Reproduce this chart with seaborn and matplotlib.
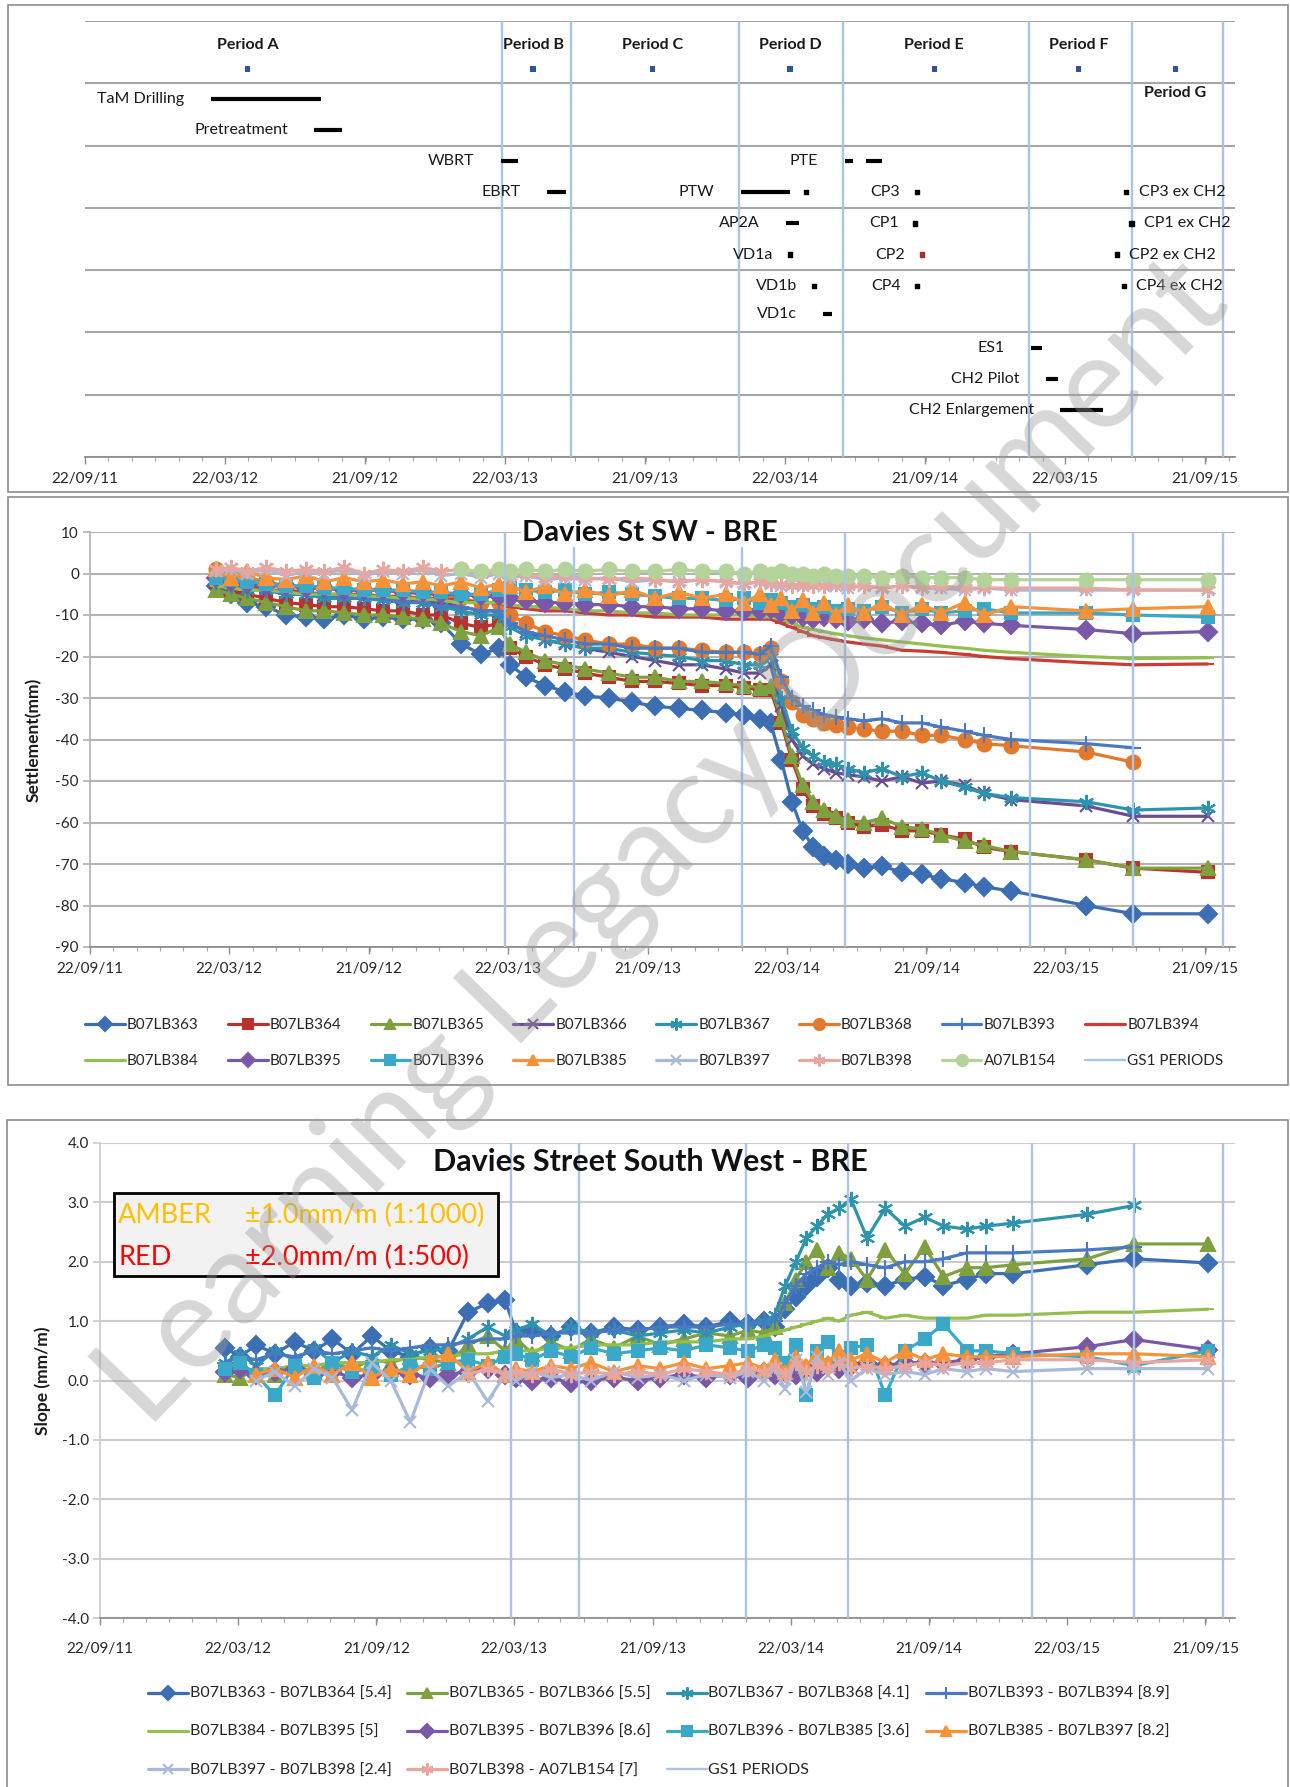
import numpy as np
import pandas as pd
import matplotlib
matplotlib.use("Agg")
import matplotlib.pyplot as plt
import matplotlib.dates as mdates
from matplotlib.patches import Rectangle
import seaborn as sns

nan = np.nan

# ---------------------------------------------------------------- data
# survey dates used by the settlement and slope panels
DATES = ["2012-03-05", "2012-03-25", "2012-04-15", "2012-05-10", "2012-06-05", "2012-07-01",
         "2012-07-25", "2012-08-20", "2012-09-15", "2012-10-10", "2012-11-05", "2012-12-01",
         "2012-12-25", "2013-01-20", "2013-02-15", "2013-03-10", "2013-03-25", "2013-04-15",
         "2013-05-10", "2013-06-05", "2013-07-01", "2013-08-01", "2013-09-01", "2013-10-01",
         "2013-11-01", "2013-12-01", "2014-01-01", "2014-01-25", "2014-02-15", "2014-03-01",
         "2014-03-15", "2014-03-29", "2014-04-12", "2014-04-26", "2014-05-10", "2014-05-25",
         "2014-06-10", "2014-07-01", "2014-07-25", "2014-08-20", "2014-09-15", "2014-10-10",
         "2014-11-10", "2014-12-05", "2015-01-10", "2015-04-18", "2015-06-19", "2015-09-24"]

# settlement (mm)
S363 = [-3, -5, -7, -8, -10, -10.5, -11, -10, -11, -10.5, -11, -11, -12, -17, -19.5, -18, -22, -25, -27, -28.5,
        -29.5, -30, -31, -32, -32.5, -33, -33.5, -34, -35, -36, -45, -55, -62, -66, -68, -69, -70, -71, -70.5, -72,
        -72.5, -73.5, -74.5, -75.5, -76.5, -80, -82, -82]
S364 = [-2, -4, -5, -6, -7, -7.5, -8, -8, -8.5, -9, -9, -10, -10, -12, -13, -12, -18, -20, -22, -23,
        -24, -25, -26, -26, -26.5, -27, -27, -27.5, -28, -28, -36, -45, -52, -56, -58, -59, -60, -61, -60.5, -62,
        -62, -63, -64, -66, -67, -69, -71, -72]
S365 = [-4, -5, -6, -7, -8, -9, -9, -9.5, -10, -10, -10.5, -11, -12, -14, -15, -13, -17, -19, -21, -22,
        -23, -24, -25, -25, -26, -26, -26.5, -27, -27.5, -27, -35, -44, -51, -55, -57, -58.5, -59.5, -60, -59, -61,
        -61.5, -63, -64.5, -65.5, -67, -69, -71, -71]
S366 = [-1, -2, -3, -4, -4.5, -5, -5, -5.5, -6, -6, -6.5, -7, -7, -8, -9, -9, -12, -14, -16, -17,
        -18, -19, -20, -21, -22, -22, -23, -24, -24, -22, -32, -40, -44, -46, -47, -48, -48.5, -49, -50, -49,
        -50.5, -50, -51, -53, -54.5, -56, -58.5, -58.5]
S367 = [-2, -3, -4, -4, -5, -5, -6, -6, -6, -6.5, -7, -7, -8, -9, -10, -10, -13, -15, -16, -17,
        -18, -18, -19, -19.5, -20, -21, -21, -22, -22, -20, -30, -38, -42, -44, -45.5, -46, -47, -48, -47, -49,
        -48, -50, -51.5, -53, -54, -55, -57, -56.5]
S368 = [1, 0, -1, -2, -3, -3, -3.5, -4, -4, -4, -4.5, -5, -5, -6, -7, -7, -10, -12, -14, -15,
        -16, -17, -17, -18, -18, -18.5, -19, -19, -19.5, -18, -26, -31, -34, -35, -36, -36.5, -37, -37.5, -38, -38,
        -39, -39, -40, -41, -41.5, -43, -45.5, nan]
S393 = [-1, -2, -3, -4, -5, -5, -5, -6, -6, -6, -7, -7, -8, -8, -9, -9, -12, -14, -15, -16,
        -17, -17, -18, -18, -18, -19, -19, -19, -19.5, -17.5, -25, -30, -32, -33, -34, -34.5, -35, -35.5, -35, -36,
        -36, -37, -38, -39, -40, -41, -42, nan]
S394 = [-2, -3, -3, -4, -4, -4.5, -5, -5, -5, -5.5, -5.5, -6, -6, -6.5, -7, -7, -8, -8.5, -9, -9,
        -9.5, -10, -10, -10.5, -10.5, -10.5, -11, -11, -11, -11, -12, -13, -14, -15, -15.5, -16, -16.5, -17, -17.5, -18.5,
        -18.7, -19, -19.5, -20, -20.5, -21.5, -22, -21.8]
S384 = [-3, -3.5, -4, -4, -4.5, -5, -5, -5, -5.5, -5.5, -6, -6, -6.5, -7, -7, -7, -7.5, -8, -8, -8.5,
        -9, -9, -9.5, -9.5, -10, -10, -10, -10, -10.5, -10.5, -11, -12, -13, -13.5, -14, -14.5, -15, -15.5, -16, -16.5,
        -17, -17.5, -18, -18.5, -19, -20, -20.5, -20.3]
S395 = [-1, -2, -2.5, -3, -3, -3.5, -3.5, -4, -4, -4, -4.5, -4.5, -5, -5, -5.5, -5.5, -6, -6.5, -7, -7,
        -7.5, -7.5, -8, -8, -8.5, -8.5, -9, -9, -9, -8.5, -9.5, -10, -10.5, -11, -10.5, -11, -11.5, -11, -12, -11.5,
        -12, -12.5, -11.5, -12, -12.5, -13.5, -14.5, -14]
S396 = [-1, -1.5, -2, -2.5, -3, -3, -3.5, -3.5, -4, -4, -4, -4.5, -4.5, -5, -5, -4, -3.5, -4, -4.5, -4,
        -5, -4.5, -5, -5.5, -6, -6, -6.5, -6, -7, -6.5, -7, -8, -7.5, -8.5, -8, -9, -8.5, -9, -8, -9.5,
        -8.5, -9.5, -9, -8.5, -9.5, -9.5, -10, -10.5]
S385 = [1, -1, 0.5, -1, -1.5, -0.5, -2, -1, -2, -1.5, -2.5, -2, -3, -2, -3.5, -2.5, -3, -4.5, -3, -5,
        -4, -5.5, -4, -6, -4.5, -6, -5, -7, -5, -7.5, -6, -9, -6.5, -9.5, -7, -10, -7.5, -9.5, -7, -10,
        -7.5, -9.5, -7, -10, -8, -9, -8.5, -8]
S397 = [0.5, 1, 0, 1, -0.5, 0.5, 0, 1, -0.5, 0.5, 0, 1, -0.5, 0, -1, 0, -1, -0.5, -1.5, -1,
        -1.5, -1, -2, -1.5, -2, -1.5, -2, -2.5, -2, -2.5, -3, -2.5, -3, -2.5, -3, -3, -3.5, -3, -3.5, -3,
        -3.5, -3.5, -4, -3.5, -4, -4, -4, -4]
S398 = [1, 1.5, 0.5, 1.5, 0.5, 1, 0.5, 1.5, 0, 1, 0.5, 1.5, 0.5, 1, 0, 0.5, -0.5, 0, -1, -0.5,
        -1, -1.5, -1, -1.5, -2, -1.5, -2, -2.5, -2, -2.5, -2.5, -3, -2.5, -3, -3, -2.5, -3, -3, -3.5, -3,
        -3.5, -3, -3.5, -3.5, -3.5, -3.5, -4, -4]
S154 = [nan, nan, nan, nan, nan, nan, nan, nan, nan, nan, nan, nan, nan, 1, 0.5, 1, 0.5, 1, 0.5, 1,
        0.5, 1, 0.5, 0.5, 1, 0.5, 0.5, 0, 0.5, 0, 0.5, 0, 0, -0.5, 0, -0.5, -0.5, -0.5, -1, -0.5,
        -1, -1, -1, -1.5, -1.5, -1.5, -1.5, -1.5]

# slope (mm/m)
SL_363_364 = [0.55, 0.4, 0.6, 0.45, 0.65, 0.5, 0.7, 0.45, 0.75, 0.5, 0.4, 0.55, 0.5, 1.15, 1.3, 1.35, 0.8, 0.85, 0.75, 0.9,
              0.8, 0.9, 0.85, 0.9, 0.95, 0.9, 1.0, 0.95, 1.0, 0.9, 1.2, 1.4, 1.6, 1.75, 1.9, 1.7, 1.6, 1.65, 1.6, 1.7,
              1.75, 1.6, 1.7, 1.8, 1.8, 1.95, 2.05, 1.98]
SL_365_366 = [0.1, 0.05, 0.2, 0.1, 0.25, 0.15, 0.3, 0.2, 0.35, 0.3, 0.4, 0.35, 0.3, 0.6, 0.75, 0.5, 0.7, 0.45, 0.65, 0.5,
              0.7, 0.55, 0.75, 0.6, 0.7, 0.8, 0.75, 0.85, 0.8, 0.9, 1.3, 1.7, 2.0, 2.2, 1.9, 2.15, 2.05, 1.7, 2.2, 1.8,
              2.25, 1.75, 1.9, 1.9, 1.95, 2.05, 2.3, 2.3]
SL_367_368 = [0.3, 0.45, 0.25, 0.5, 0.35, 0.55, 0.3, 0.5, 0.4, 0.6, 0.45, 0.5, 0.55, 0.7, 0.9, 0.75, 0.85, 0.95, 0.75, 0.9,
              0.8, 0.85, 0.75, 0.8, 0.85, 0.8, 0.9, 0.95, 1.0, 1.1, 1.6, 2.0, 2.4, 2.6, 2.8, 2.9, 3.05, 2.4, 2.9, 2.6,
              2.75, 2.6, 2.55, 2.6, 2.65, 2.8, 2.95, nan]
SL_393_394 = [0.3, 0.4, 0.35, 0.45, 0.4, 0.5, 0.45, 0.5, 0.55, 0.5, 0.55, 0.6, 0.6, 0.65, 0.7, 0.7, 0.75, 0.75, 0.8, 0.8,
              0.8, 0.85, 0.85, 0.9, 0.9, 0.9, 0.95, 0.95, 1.0, 1.0, 1.3, 1.6, 1.8, 1.9, 2.0, 1.95, 2.0, 1.95, 1.9, 2.0,
              2.0, 2.05, 2.15, 2.15, 2.15, 2.2, 2.25, nan]
SL_384_395 = [0.1, 0.15, 0.2, 0.2, 0.25, 0.25, 0.3, 0.3, 0.3, 0.35, 0.35, 0.4, 0.4, 0.45, 0.45, 0.5, 0.5, 0.5, 0.55, 0.55,
              0.6, 0.6, 0.6, 0.65, 0.65, 0.65, 0.7, 0.7, 0.75, 0.8, 0.85, 0.9, 0.95, 1.0, 1.05, 1.0, 1.1, 1.15, 1.05, 1.1,
              1.05, 1.05, 1.05, 1.1, 1.1, 1.15, 1.15, 1.2]
SL_395_396 = [0.15, 0.2, 0.1, 0.15, 0.2, 0.1, 0.15, 0.05, 0.1, 0.15, 0.1, 0.05, 0.1, 0.15, 0.2, 0.1, 0.05, 0.0, 0.05, -0.05,
              0.0, 0.05, 0.0, 0.05, 0.1, 0.05, 0.1, 0.05, 0.15, 0.1, 0.15, 0.1, 0.2, 0.15, 0.25, 0.2, 0.25, 0.3, 0.25, 0.3,
              0.3, 0.3, 0.35, 0.4, 0.45, 0.57, 0.69, 0.52]
SL_396_385 = [0.2, 0.3, 0.1, -0.25, 0.25, 0.05, 0.3, 0.15, 0.2, 0.1, 0.25, 0.2, 0.3, 0.35, 0.25, 0.4, 0.45, 0.35, 0.5, 0.4,
              0.55, 0.45, 0.5, 0.55, 0.5, 0.6, 0.55, 0.5, 0.6, 0.55, 0.3, 0.6, -0.25, 0.5, 0.65, 0.4, 0.55, 0.6, -0.25, 0.5,
              0.7, 0.95, 0.5, 0.5, 0.45, 0.4, 0.25, 0.5]
SL_385_397 = [nan, nan, 0.1, 0.2, 0.05, 0.25, 0.1, 0.3, 0.05, 0.2, 0.1, 0.35, 0.45, 0.15, 0.3, 0.1, 0.2, 0.15, 0.25, 0.2,
              0.3, 0.15, 0.25, 0.2, 0.3, 0.2, 0.25, 0.3, 0.2, 0.35, 0.15, 0.4, 0.25, 0.45, 0.3, 0.5, 0.35, 0.45, 0.3, 0.5,
              0.35, 0.45, 0.4, 0.4, 0.4, 0.45, 0.45, 0.4]
SL_397_398 = [nan, nan, 0.0, 0.15, -0.1, 0.2, 0.05, -0.5, 0.3, 0.0, -0.7, 0.2, -0.1, 0.15, -0.35, 0.1, 0.0, 0.15, 0.05, 0.1,
              0.0, 0.15, 0.05, 0.1, 0.0, 0.1, 0.05, 0.15, 0.0, 0.2, -0.15, 0.35, -0.2, 0.4, 0.1, 0.3, 0.0, 0.2, 0.1, 0.15,
              0.1, 0.2, 0.15, 0.2, 0.15, 0.2, 0.2, 0.2]
SL_398_154 = [nan, nan, nan, nan, nan, nan, nan, nan, nan, nan, nan, nan, nan, 0.1, 0.2, 0.1, 0.15, 0.1, 0.2, 0.1,
              0.15, 0.1, 0.15, 0.1, 0.2, 0.15, 0.1, 0.2, 0.15, 0.25, 0.1, 0.3, 0.15, 0.25, 0.2, 0.3, 0.2, 0.25, 0.2, 0.25,
              0.3, 0.25, 0.3, 0.3, 0.35, 0.35, 0.3, 0.35]

MID_NAMES = ["B07LB363", "B07LB364", "B07LB365", "B07LB366", "B07LB367", "B07LB368", "B07LB393", "B07LB394",
             "B07LB384", "B07LB395", "B07LB396", "B07LB385", "B07LB397", "B07LB398", "A07LB154"]
BOT_NAMES = ["B07LB363 - B07LB364 [5.4]", "B07LB365 - B07LB366 [5.5]", "B07LB367 - B07LB368 [4.1]",
             "B07LB393 - B07LB394 [8.9]", "B07LB384 - B07LB395 [5]", "B07LB395 - B07LB396 [8.6]",
             "B07LB396 - B07LB385 [3.6]", "B07LB385 - B07LB397 [8.2]", "B07LB397 - B07LB398 [2.4]",
             "B07LB398 - A07LB154 [7]"]

# GS1 periods
PERIOD_BOUNDS = ["2013-03-18", "2013-06-16", "2014-01-22", "2014-06-06", "2015-02-04", "2015-06-18", "2015-10-14"]
PERIOD_NAMES = ["Period A", "Period B", "Period C", "Period D", "Period E", "Period F", "Period G"]
PERIOD_MIDS = ["2012-04-21", "2013-04-28", "2013-10-01", "2014-03-29", "2014-10-03", "2015-04-09", "2015-08-13"]

# activities drawn as bars
BAR_LABELS = ["TaM Drilling", "Pretreatment", "WBRT", "EBRT", "PTE", "", "PTW", "AP2A", "VD1c",
              "ES1", "CH2 Pilot", "CH2 Enlargement"]
BAR_ROWS = [1.25, 1.75, 2.25, 2.75, 2.25, 2.25, 2.75, 3.25, 4.7, 5.25, 5.75, 6.25]
BAR_START = ["2012-03-04", "2012-07-17", "2013-03-17", "2013-05-16", "2014-06-08", "2014-07-06", "2014-01-24",
             "2014-03-24", "2014-05-11", "2015-02-06", "2015-02-26", "2015-03-16"]
BAR_END = ["2012-07-26", "2012-08-22", "2013-04-09", "2013-06-10", "2014-06-19", "2014-07-27", "2014-03-29",
           "2014-04-10", "2014-05-23", "2015-02-20", "2015-03-13", "2015-05-11"]

# one-off activities drawn as dots
DOT_LABELS = ["", "VD1a", "VD1b", "CP3", "CP1", "CP2", "CP4", "CP3 ex CH2", "CP1 ex CH2", "CP2 ex CH2", "CP4 ex CH2"]
DOT_ROWS = [2.75, 3.75, 4.25, 2.75, 3.25, 3.75, 4.25, 2.75, 3.25, 3.75, 4.25]
DOT_DATES = ["2014-04-19", "2014-03-29", "2014-04-29", "2014-09-10", "2014-09-08", "2014-09-17", "2014-09-11",
             "2015-06-10", "2015-06-17", "2015-05-29", "2015-06-07"]

TICK_DATES = ["2011-09-22", "2012-03-22", "2012-09-21", "2013-03-22", "2013-09-21", "2014-03-22",
              "2014-09-21", "2015-03-22", "2015-09-21"]
TICK_LABELS = ["22/09/11", "22/03/12", "21/09/12", "22/03/13", "21/09/13", "22/03/14", "21/09/14",
               "22/03/15", "21/09/15"]
XMIN, XMAX = "2011-09-22", "2015-10-30"

# ---------------------------------------------------------------- styles
MID_VALUES = [S363, S364, S365, S366, S367, S368, S393, S394, S384, S395, S396, S385, S397, S398, S154]
MID_COLORS = ["#3C6EB4", "#B7332E", "#7FA03E", "#6A4C93", "#2E93AE", "#E2792C", "#4879C2", "#CC3A33",
              "#93BF4E", "#7A58A8", "#3AA9C9", "#F79238", "#A8B9DA", "#E8A6A0", "#B4D39A"]
STAR = (6, 2, 0)
MID_MARKERS = ["D", "s", "^", "x", STAR, "o", "+", "_", "_", "D", "s", "^", "x", STAR, "o"]

BOT_VALUES = [SL_363_364, SL_365_366, SL_367_368, SL_393_394, SL_384_395, SL_395_396, SL_396_385,
              SL_385_397, SL_397_398, SL_398_154]
BOT_COLORS = ["#3C6EB4", "#7FA03E", "#2E93AE", "#4879C2", "#93BF4E", "#7A58A8", "#3AA9C9", "#F79238",
              "#A8B9DA", "#E8A6A0"]
BOT_MARKERS = ["D", "^", STAR, "+", "_", "D", "s", "^", "x", STAR]

MARKER_SIZE = {"D": 9, "s": 8.5, "^": 9.5, "x": 9, "o": 10, "+": 11, "_": 8, STAR: 11}
PERIOD_COLOR = "#A9C4E4"

W, H, DPI = 1290, 1787, 100

sns.set_theme(style="white")
plt.rcParams["font.family"] = ["Lato", "DejaVu Sans"]
plt.rcParams["axes.unicode_minus"] = False

fig = plt.figure(figsize=(W / DPI, H / DPI), dpi=DPI)


def rect(l, t, r, b):
    return [l / W, 1 - b / H, (r - l) / W, (b - t) / H]


def time_axis(ax, grid_color):
    ax.set_xlim(pd.Timestamp(XMIN), pd.Timestamp(XMAX))
    ax.set_xticks(pd.to_datetime(TICK_DATES))
    ax.set_xticklabels(TICK_LABELS)
    ax.xaxis.set_minor_locator(mdates.MonthLocator(bymonthday=22))
    ax.tick_params(axis="x", which="major", length=5, width=1, color="#8C8C8C", pad=6,
                   labelsize=11, labelcolor="#262626", bottom=True)
    ax.tick_params(axis="x", which="minor", length=3, width=0.8, color="#A6A6A6", bottom=True)
    for s in ["top", "right"]:
        ax.spines[s].set_visible(False)
    ax.spines["bottom"].set_color("#8C8C8C")
    ax.spines["left"].set_color(grid_color)
    ax.grid(axis="y", color=grid_color, lw=1.5)
    ax.grid(axis="x", visible=False)
    ax.set_axisbelow(True)


def period_lines(ax, label=None):
    for i, d in enumerate(pd.to_datetime(PERIOD_BOUNDS)):
        ax.axvline(d, color=PERIOD_COLOR, lw=1.7, label=label if i == 0 else None, zorder=3)


# ---------------------------------------------------------------- frames
for l, t, r, b in [(8, 5, 1288, 492), (8, 497, 1288, 1085), (7, 1120, 1288, 1800)]:
    fig.add_artist(Rectangle((l / W, 1 - b / H), (r - l) / W, (b - t) / H, transform=fig.transFigure,
                             fill=False, ec="#8C8C8C", lw=1.2))

# ---------------------------------------------------------------- top: programme
ax_top = fig.add_axes(rect(85, 21, 1235, 457))
period_lines(ax_top)

mids = pd.to_datetime(PERIOD_MIDS)
sns.scatterplot(x=mids, y=[0.77] * len(mids), marker="s", s=14, color="#2F5597", edgecolor="none",
                ax=ax_top, zorder=4)
for name, d in zip(PERIOD_NAMES, mids):
    dy = -17 if name == "Period G" else 17
    ax_top.annotate(name, (d, 0.77), xytext=(0, dy), textcoords="offset points", ha="center",
                    va="center", fontsize=11.5, fontweight="bold", color="#1A1A1A")

ax_top.hlines(BAR_ROWS, pd.to_datetime(BAR_START), pd.to_datetime(BAR_END), color="black", lw=3, zorder=4)
for lab, row, start in zip(BAR_LABELS, BAR_ROWS, pd.to_datetime(BAR_START)):
    if lab:
        ax_top.annotate(lab, (start, row), xytext=(-19, 0), textcoords="offset points", ha="right",
                        va="center", fontsize=11.5, color="#1A1A1A")

dot_colors = ["#A0302C" if lab == "CP2" else "black" for lab in DOT_LABELS]
ax_top.scatter(pd.to_datetime(DOT_DATES), DOT_ROWS, marker="s", s=9, c=dot_colors, zorder=4)
for lab, row, d in zip(DOT_LABELS, DOT_ROWS, pd.to_datetime(DOT_DATES)):
    if not lab:
        continue
    if "ex CH2" in lab:
        ax_top.annotate(lab, (d, row), xytext=(9, 0), textcoords="offset points", ha="left",
                        va="center", fontsize=11.5, color="#1A1A1A")
    else:
        ax_top.annotate(lab, (d, row), xytext=(-12, 0), textcoords="offset points", ha="right",
                        va="center", fontsize=11.5, color="#1A1A1A")

time_axis(ax_top, "#A6A6A6")
ax_top.set_ylim(7, 0)
ax_top.set_yticks(range(8))
ax_top.set_yticklabels([])
ax_top.tick_params(axis="y", length=0)
ax_top.spines["left"].set_visible(False)
ax_top.set_xlabel("")
ax_top.set_ylabel("")

# ---------------------------------------------------------------- middle: settlement
dates = pd.to_datetime(DATES)
ax_mid = fig.add_axes(rect(90, 532, 1235, 947))
for name, vals, c, m in zip(MID_NAMES, MID_VALUES, MID_COLORS, MID_MARKERS):
    sns.lineplot(x=dates, y=vals, ax=ax_mid, color=c, marker=m, markersize=MARKER_SIZE[m],
                 markeredgecolor=c, markeredgewidth=1.5, linewidth=2.3, label=name, legend=False)
period_lines(ax_mid, "GS1 PERIODS")
time_axis(ax_mid, "#B3B3B3")
ax_mid.set_xlabel("")
ax_mid.set_ylim(-90, 10)
ax_mid.set_yticks(range(-90, 11, 10))
ax_mid.tick_params(axis="y", length=5, color="#B3B3B3", labelsize=11, labelcolor="#262626", left=True, pad=3)
ax_mid.set_ylabel("Settlement(mm)", fontsize=12.5, fontweight="bold", color="#1A1A1A")
ax_mid.yaxis.set_label_coords(-0.042, 0.5)
ax_mid.text(0.489, 0.998, "Davies St SW - BRE", transform=ax_mid.transAxes, ha="center", va="center",
            fontsize=21, fontweight="bold", color="#111111", zorder=6,
            bbox=dict(fc="white", ec="none", pad=1))

h, l = ax_mid.get_legend_handles_labels()
order = [0, 8, 1, 9, 2, 10, 3, 11, 4, 12, 5, 13, 6, 14, 7, 15]
ax_mid.legend([h[i] for i in order], [l[i] for i in order], ncol=8, loc="upper left",
              bbox_to_anchor=(85 / W, 1 - 1018 / H), bbox_transform=fig.transFigure, frameon=False,
              fontsize=11, handlelength=2.6, handletextpad=0.15, columnspacing=1.9, labelspacing=1.45,
              markerscale=0.8, borderpad=0, borderaxespad=0)

# ---------------------------------------------------------------- bottom: slope
ax_bot = fig.add_axes(rect(100, 1143, 1235, 1618))
for name, vals, c, m in zip(BOT_NAMES, BOT_VALUES, BOT_COLORS, BOT_MARKERS):
    sns.lineplot(x=dates, y=vals, ax=ax_bot, color=c, marker=m, markersize=MARKER_SIZE[m],
                 markeredgecolor=c, markeredgewidth=1.5, linewidth=2.3, label=name, legend=False)
period_lines(ax_bot, "GS1 PERIODS")
time_axis(ax_bot, "#CCCCCC")
ax_bot.set_xlabel("")
ax_bot.set_ylim(-4, 4)
ax_bot.set_yticks(np.arange(-4, 4.01, 1))
ax_bot.set_yticklabels([f"{v:.1f}" for v in np.arange(-4, 4.01, 1)])
ax_bot.tick_params(axis="y", length=5, color="#CCCCCC", labelsize=11, labelcolor="#262626", left=True, pad=3)
ax_bot.tick_params(axis="x", which="major", pad=12)
ax_bot.set_ylabel("Slope (mm/m)", fontsize=12.5, fontweight="bold", color="#1A1A1A")
ax_bot.yaxis.set_label_coords(-0.043, 0.5)
ax_bot.text(0.485, 0.96, "Davies Street South West - BRE", transform=ax_bot.transAxes, ha="center",
            va="center", fontsize=22, fontweight="bold", color="#111111", zorder=6)

# AMBER / RED trigger box
ax_bot.add_patch(Rectangle((0.0123, 0.72), 0.3384, 0.1747, transform=ax_bot.transAxes, fc="#F2F2F2",
                           ec="black", lw=2, zorder=7))
for txt, x, y, c in [("AMBER", 0.016, 0.848, "#FFC000"), ("±1.0mm/m (1:1000)", 0.128, 0.848, "#FFC000"),
                     ("RED", 0.016, 0.758, "#FF0000"), ("±2.0mm/m (1:500)", 0.128, 0.758, "#FF0000")]:
    ax_bot.text(x, y, txt, transform=ax_bot.transAxes, color=c, fontsize=19.5, va="center", zorder=8)

h, l = ax_bot.get_legend_handles_labels()
order = [0, 4, 8, 1, 5, 9, 2, 6, 10, 3, 7]
ax_bot.legend([h[i] for i in order], [l[i] for i in order], ncol=4, loc="upper left",
              bbox_to_anchor=(148 / W, 1 - 1687 / H), bbox_transform=fig.transFigure, frameon=False,
              fontsize=11.5, handlelength=2.5, handletextpad=0.1, columnspacing=1.0, labelspacing=1.5,
              markerscale=0.8, borderpad=0, borderaxespad=0)

# ---------------------------------------------------------------- watermark
fig.text(0.515, 0.528, "Learning Legacy Document", rotation=46, rotation_mode="anchor",
         ha="center", va="center", fontsize=94, color="#9A9A9A", alpha=0.4, zorder=100)

fig.savefig("out.png", dpi=DPI)
